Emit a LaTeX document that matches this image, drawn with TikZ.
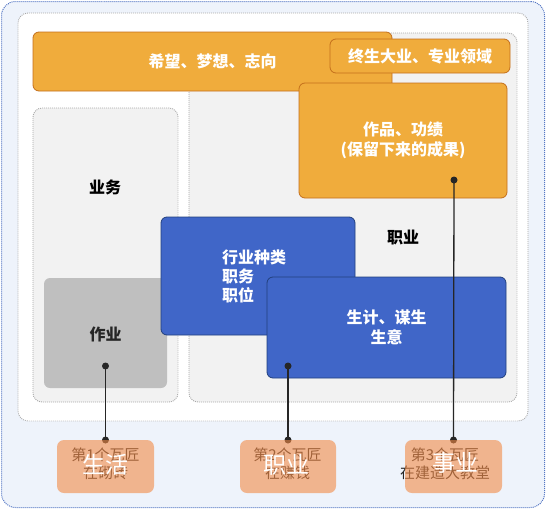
\documentclass[tikz,border=0pt]{standalone}
\usepackage{fontspec}
\setmainfont{Noto Sans CJK SC}
\definecolor{outerfill}{HTML}{EEF3FB}
\definecolor{outerline}{HTML}{5577C4}
\definecolor{greyline}{HTML}{A8A8A8}
\definecolor{regionfill}{HTML}{F2F2F2}
\definecolor{workfill}{HTML}{BFBFBF}
\definecolor{orangefill}{HTML}{F0AC3C}
\definecolor{orangeline}{HTML}{C46F1C}
\definecolor{bluefill}{HTML}{4066C8}
\definecolor{blueline}{HTML}{22407E}
\definecolor{salmon}{HTML}{F28A46}
\definecolor{darkink}{HTML}{262626}
\begin{document}
\begin{tikzpicture}[x=1pt,y=-1pt,
  every node/.style={inner sep=0pt, outer sep=0pt},
  region/.style={draw=greyline, fill=regionfill, line width=0.9pt, dash pattern=on 0.9pt off 1.1pt, rounded corners=9pt},
  orangebox/.style={draw=orangeline, fill=orangefill, line width=0.8pt, rounded corners=6pt, text=white, font=\bfseries\fontsize{16}{20}\selectfont, align=center},
  bluebox/.style={draw=blueline, fill=bluefill, line width=0.8pt, rounded corners=6pt, text=white, font=\bfseries\fontsize{16}{20}\selectfont, align=center},
  lbl/.style={font=\bfseries\fontsize{16}{19}\selectfont, align=center},
  masonbox/.style={fill=salmon, fill opacity=0.6, rounded corners=7pt, minimum width=97pt, minimum height=53pt},
  masontext/.style={text=darkink, font=\fontsize{15}{18}\selectfont, align=center},
  bigword/.style={text=white, font=\fontsize{23}{26}\selectfont},
  pin/.style={circle, fill=darkink, minimum size=7pt},
  link/.style={draw=darkink, line width=1.3pt}
]
\useasboundingbox (0,0) rectangle (546,509);
% outer and inner frames
\node[draw=outerline, fill=outerfill, line width=1pt, dash pattern=on 1pt off 1pt, rounded corners=14pt, minimum width=543pt, minimum height=506pt] (outer) at (273,254.5) {};
\node[draw=greyline, fill=white, line width=0.9pt, dash pattern=on 0.9pt off 1.1pt, rounded corners=10pt, minimum width=510pt, minimum height=408pt] (inner) at (273,217) {};
% regions
\node[region, minimum width=328pt, minimum height=369pt] (jobregion) at (353,217.5) {};
\node[region, minimum width=145pt, minimum height=294pt] (bizregion) at (105.5,255) {};
\node[fill=workfill, rounded corners=6pt, minimum width=123pt, minimum height=110pt] (workbox) at (105.5,333) {};
\node[lbl, text=darkink] (worklbl) at (105.5,334) {作业};
\node[lbl, text=black] (bizlbl) at (105,187) {业务};
\node[lbl, text=black] (joblbl) at (403,238) {职业};
% orange boxes
\node[orangebox, minimum width=359pt, minimum height=59pt] (hope) at (212.5,61.5) {希望、梦想、志向};
\node[orangebox, minimum width=180pt, minimum height=34pt] (lifework) at (420,56) {终生大业、专业领域};
\node[orangebox, minimum width=208pt, minimum height=115pt] (works) at (403,140.5) {作品、功绩\\(保留下来的成果)};
% blue boxes
\node[bluebox, minimum width=194pt, minimum height=118pt] (trade) at (258,276) {};
\node[text=white, font=\bfseries\fontsize{16}{19}\selectfont, align=left, anchor=west] (tradelbl) at (222,276) {行业种类\\职务\\职位};
\node[bluebox, minimum width=239pt, minimum height=101pt] (living) at (386.5,327.5) {生计、谋生\\生意};
% pins on boxes
\node[pin] (p1) at (105.5,366) {};
\node[pin] (p2) at (288,366) {};
\node[pin] (p3) at (454,180) {};
% bottom anchors
\coordinate (q1) at (105.5,440);
\coordinate (q2) at (288,440);
\coordinate (q3) at (453.5,440);
% connectors
\path[link] (p1.center) -- (q1);
\path[link] (p2.center) -- (q2);
\path[link] (p3.center) -- (q3);
\node[pin] (e1) at (q1) {};
\node[pin] (e2) at (q2) {};
\node[pin] (e3) at (q3) {};
% bottom texts under translucent boxes
\node[masontext] (t1) at (105.5,464) {第1个瓦匠\\在砌砖};
\node[masontext] (t2) at (287.5,464) {第2个瓦匠\\在赚钱};
\node[masontext] (t3) at (445,464) {第3个瓦匠\\在建造大教堂};
\node[masonbox] (b1) at (105.5,466.5) {};
\node[masonbox, minimum width=96pt] (b2) at (288,466.5) {};
\node[masonbox] (b3) at (453.5,466.5) {};
\node[bigword] (w1) at (105.5,465) {生活};
\node[bigword] (w2) at (286,465) {职业};
\node[bigword] (w3) at (455,463) {事业};
\end{tikzpicture}
\end{document}
